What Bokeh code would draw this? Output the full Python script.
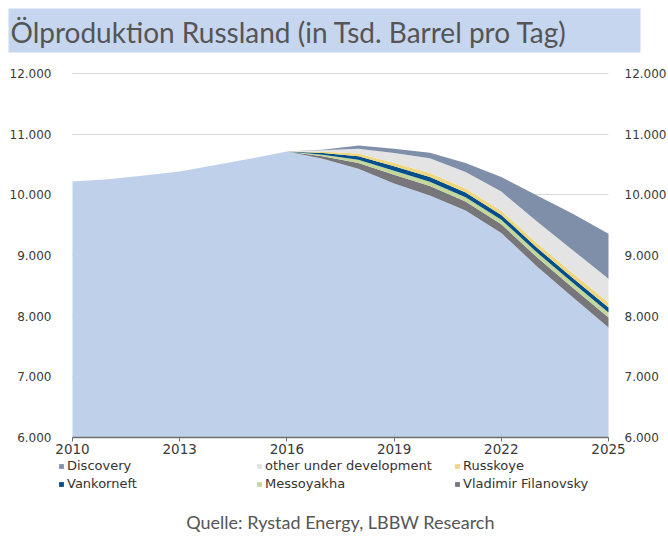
import numpy as np
from bokeh.plotting import figure
from bokeh.models import (ColumnDataSource, Range1d, LinearAxis, FixedTicker,
                          CustomJSTickFormatter, Legend, LegendItem, Label, BoxAnnotation)
from bokeh.embed import file_html
from bokeh.resources import INLINE

# ---- data (Tsd. Barrel pro Tag) ----
years = list(range(2010, 2026))
base = [10220, 10255, 10320, 10385, 10490, 10600, 10714, 10595, 10430, 10185,
        9990, 9740, 9370, 8820, 8310, 7815]
filanovsky = [0, 0, 0, 0, 0, 0, 0, 40, 95, 145, 155, 150, 145, 150, 160, 165]
messoyakha = [0, 0, 0, 0, 0, 0, 0, 25, 55, 65, 72, 72, 75, 78, 80, 82]
vankorneft = [0, 0, 0, 0, 0, 0, 0, 30, 55, 75, 78, 78, 78, 80, 80, 82]
russkoye = [0, 0, 0, 0, 0, 0, 0, 20, 45, 55, 65, 65, 70, 72, 78, 82]
other_dev = [0, 0, 0, 0, 0, 0, 0, 25, 80, 165, 245, 270, 315, 360, 380, 391]
discovery = [0, 0, 0, 0, 0, 0, 0, 10, 55, 70, 90, 150, 240, 430, 600, 740]

x_ticks = [2010, 2013, 2016, 2019, 2022, 2025]
y_ticks = [6000, 7000, 8000, 9000, 10000, 11000, 12000]

title_text = "Ölproduktion Russland (in Tsd. Barrel pro Tag)"
source_text = "Quelle: Rystad Energy, LBBW Research"

names = ["base", "filanovsky", "messoyakha", "vankorneft", "russkoye", "other_dev", "discovery"]
series = [base, filanovsky, messoyakha, vankorneft, russkoye, other_dev, discovery]
labels = {"discovery": "Discovery", "other_dev": "other under development",
          "russkoye": "Russkoye", "vankorneft": "Vankorneft",
          "messoyakha": "Messoyakha", "filanovsky": "Vladimir Filanovsky"}
colors = ["#BFD0EA", "#77777B", "#C4D79B", "#004F8C", "#F0D67C", "#E4E4E4", "#7F8FA9"]
legend_order = ["discovery", "other_dev", "russkoye", "vankorneft", "messoyakha", "filanovsky"]

# ---- page geometry (pixels) ----
W, H = 668, 537
FL, FR, FT, FB = 72, 608, 73, 437       # where the chart area sits on the canvas
xmin, xmax = x_ticks[0], x_ticks[-1]
ymin, ymax = y_ticks[0], y_ticks[-1]
kx = (FR - FL) / (xmax - xmin)
ky = (FB - FT) / (ymax - ymin)

def px2x(px):
    return xmin + (px - FL) / kx

def py2y(py):
    return ymin + (FB - py) / ky

# stacked layers (cumulative tops)
cum = np.cumsum(np.array(series, dtype=float), axis=0)
data = dict(year=years)
for i, n in enumerate(names):
    data[n + "_hi"] = cum[i]
    data[n + "_lo"] = cum[i - 1] if i > 0 else np.full(len(years), float(ymin))
src = ColumnDataSource(data)

p = figure(width=W, height=H, output_backend="svg", toolbar_location=None,
           x_range=Range1d(px2x(0), px2x(W)), y_range=Range1d(py2y(H), py2y(0)),
           min_border=0, min_border_left=0, min_border_right=0,
           min_border_top=0, min_border_bottom=0)
p.outline_line_color = None
p.background_fill_color = "white"
p.border_fill_color = "white"

rmap = {}
for n, c in zip(names, colors):
    rmap[n] = p.varea(x="year", y1=n + "_lo", y2=n + "_hi", source=src,
                      fill_color=c, fill_alpha=1.0)

# axes
fmt = CustomJSTickFormatter(code="return Math.round(tick).toString().replace(/\\B(?=(\\d{3})+(?!\\d))/g, '.');")
for ax, loc, so in ((p.yaxis[0], xmin, 15), (LinearAxis(), xmax, 10)):
    ax.ticker = FixedTicker(ticks=y_ticks)
    ax.formatter = fmt
    ax.fixed_location = loc
    ax.bounds = (ymin, ymax)
    ax.axis_line_color = None
    ax.major_tick_line_color = None
    ax.minor_tick_line_color = None
    ax.major_label_standoff = so
    ax.major_label_text_font = "DejaVu Sans"
    ax.major_label_text_font_size = "12px"
    ax.major_label_text_color = "#3A3A3A"
    if loc == xmax:
        p.add_layout(ax, "right")

xa = p.xaxis[0]
xa.ticker = FixedTicker(ticks=x_ticks)
xa.fixed_location = ymin
xa.bounds = (xmin, xmax)
xa.axis_line_color = "#6E6E6E"
xa.axis_line_width = 1.5
xa.major_tick_line_color = "#6E6E6E"
xa.major_tick_in = 0
xa.major_tick_out = 4
xa.minor_tick_line_color = None
xa.major_label_standoff = 2
xa.major_label_text_font = "DejaVu Sans"
xa.major_label_text_font_size = "13.5px"
xa.major_label_text_color = "#3A3A3A"

p.xgrid.grid_line_color = None
p.ygrid.ticker = FixedTicker(ticks=y_ticks)
p.ygrid.bounds = (ymin, ymax)
p.ygrid.cross_bounds = (xmin, xmax)
p.ygrid.grid_line_color = "#D9D9D9"

# title band + title
p.add_layout(BoxAnnotation(left=px2x(8), right=px2x(640), top=py2y(8), bottom=py2y(52),
                           fill_color="#C6D6EF", fill_alpha=1.0, line_color=None))
p.add_layout(Label(x=px2x(10), y=py2y(31), text=title_text, text_font="Lato",
                   text_font_size="28px", text_color="#555555",
                   text_baseline="middle", text_align="left"))

# legend below the axis
items = [LegendItem(label=labels[k], renderers=[rmap[k]]) for k in legend_order]
leg = Legend(items=items, orientation="horizontal", ncols=3, location=(58, H - 491),
             glyph_width=6, glyph_height=6, label_standoff=3, label_width=186,
             label_height=14, spacing=3, padding=0, margin=0,
             label_text_font="DejaVu Sans", label_text_font_size="13px",
             label_text_color="#333333", border_line_color=None,
             background_fill_alpha=0)
p.add_layout(leg, "center")

# source line
p.add_layout(Label(x=px2x(340), y=py2y(521), text=source_text, text_font="Lato",
                   text_font_size="18px", text_color="#555555",
                   text_baseline="middle", text_align="center"))

open("out.html", "w").write(file_html(p, INLINE))
